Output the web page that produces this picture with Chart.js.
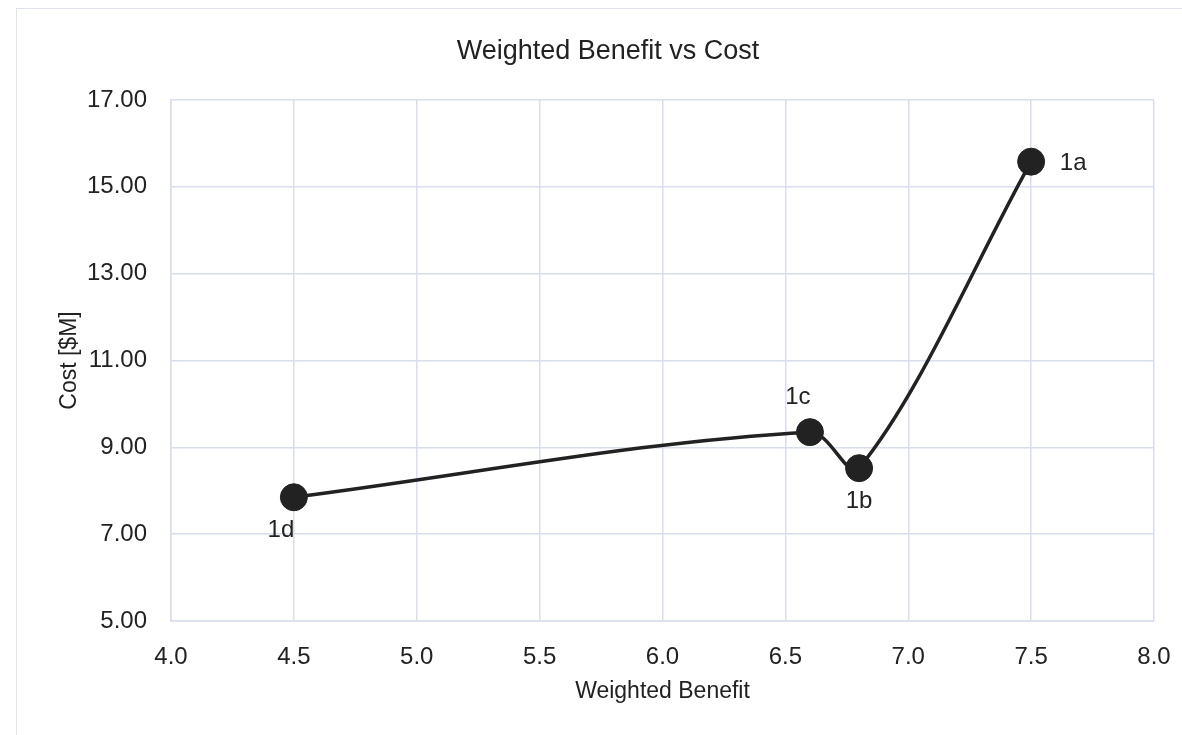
<!DOCTYPE html>
<html>
<head>
<meta charset="utf-8">
<script src="https://cdn.jsdelivr.net/npm/chart.js@4.4.1/dist/chart.umd.min.js"></script>
<style>
  html, body { margin: 0; padding: 0; background: #fff; }
  #wrap { position: relative; width: 1182px; height: 735px; }
  #frame { position: absolute; left: 16px; top: 8px; width: 1180px; height: 740px; border: 1px solid #dfe3f0; box-sizing: border-box; }
  canvas { position: absolute; left: 0; top: 0; }
</style>
</head>
<body>
<div id="wrap">
  <div id="frame"></div>
  <canvas id="grafico" width="1182" height="735"></canvas>
</div>
<script>
// options as they sit on the chart, sorted by benefit
const optionNames = ['1d', '1c', '1b', '1a'];
const weightedBenefit = [4.5, 6.6, 6.8, 7.5];
const costMillions = [7.85, 9.35, 8.52, 15.58];
const xTicks = [4.0, 4.5, 5.0, 5.5, 6.0, 6.5, 7.0, 7.5, 8.0];
const yTicks = [5, 7, 9, 11, 13, 15, 17];
const chartTitle = 'Weighted Benefit vs Cost';

const FONT = "'Liberation Sans Narrow', 'Arial Narrow', 'Liberation Sans', sans-serif";
const INK = '#222222';
const GRID = '#d9deee';

// where each name sits around its marker
const labelSpot = { '1a': [42, 2], '1b': [0, 33], '1c': [-12, -35], '1d': [-13, 33] };

const nameLabels = {
  id: 'nameLabels',
  afterDatasetsDraw(chart) {
    const ctx = chart.ctx;
    const meta = chart.getDatasetMeta(0);
    ctx.save();
    ctx.fillStyle = INK;
    ctx.textAlign = 'center';
    ctx.textBaseline = 'middle';
    // title is centred on the outer frame, not on the canvas
    ctx.font = '27px ' + FONT;
    ctx.fillText(chartTitle, 608, 52);
    ctx.font = '24px ' + FONT;
    meta.data.forEach(function(pt, i) {
      const off = labelSpot[optionNames[i]];
      ctx.fillText(optionNames[i], pt.x + off[0], pt.y + off[1]);
    });
    ctx.restore();
  }
};

const ctx = document.getElementById('grafico').getContext('2d');
new Chart(ctx, {
  type: 'scatter',
  data: {
    datasets: [{
      data: weightedBenefit.map((x, i) => ({ x: x, y: costMillions[i] })),
      showLine: true,
      tension: 0.33,
      borderColor: INK,
      borderWidth: 3.5,
      pointRadius: 13.5,
      pointBackgroundColor: INK,
      pointBorderColor: INK,
      pointBorderWidth: 1
    }]
  },
  options: {
    responsive: false,
    animation: false,
    layout: { padding: { left: 0, right: 28, top: 100, bottom: 0 } },
    plugins: {
      legend: { display: false },
      tooltip: { enabled: false },
      title: { display: false }
    },
    scales: {
      x: {
        type: 'linear',
        min: 4, max: 8,
        afterBuildTicks: (s) => { s.ticks = xTicks.map(v => ({ value: v })); },
        afterFit: (s) => { s.height = 114; s.paddingLeft = 0; s.paddingRight = 0; },
        grid: { color: GRID, lineWidth: 1.5, drawTicks: false },
        border: { color: GRID, width: 1.5 },
        ticks: {
          color: INK,
          padding: 22,
          font: { family: FONT, size: 24 },
          callback: (v) => Number(v).toFixed(1)
        },
        title: {
          display: true,
          text: 'Weighted Benefit',
          color: INK,
          font: { family: FONT, size: 23 },
          padding: { top: 0, bottom: 30 }
        }
      },
      y: {
        type: 'linear',
        min: 5, max: 17,
        afterBuildTicks: (s) => { s.ticks = yTicks.map(v => ({ value: v })); },
        afterFit: (s) => { s.width = 171; s.paddingTop = 0; s.paddingBottom = 0; },
        grid: { color: GRID, lineWidth: 1.5, drawTicks: false },
        border: { color: GRID, width: 1.5 },
        ticks: {
          color: INK,
          padding: 24,
          font: { family: FONT, size: 24 },
          callback: (v) => Number(v).toFixed(2)
        },
        title: {
          display: true,
          text: 'Cost [$M]',
          color: INK,
          font: { family: FONT, size: 23 },
          padding: { top: 56, bottom: 0 }
        }
      }
    }
  },
  plugins: [nameLabels]
});
</script>
</body>
</html>
